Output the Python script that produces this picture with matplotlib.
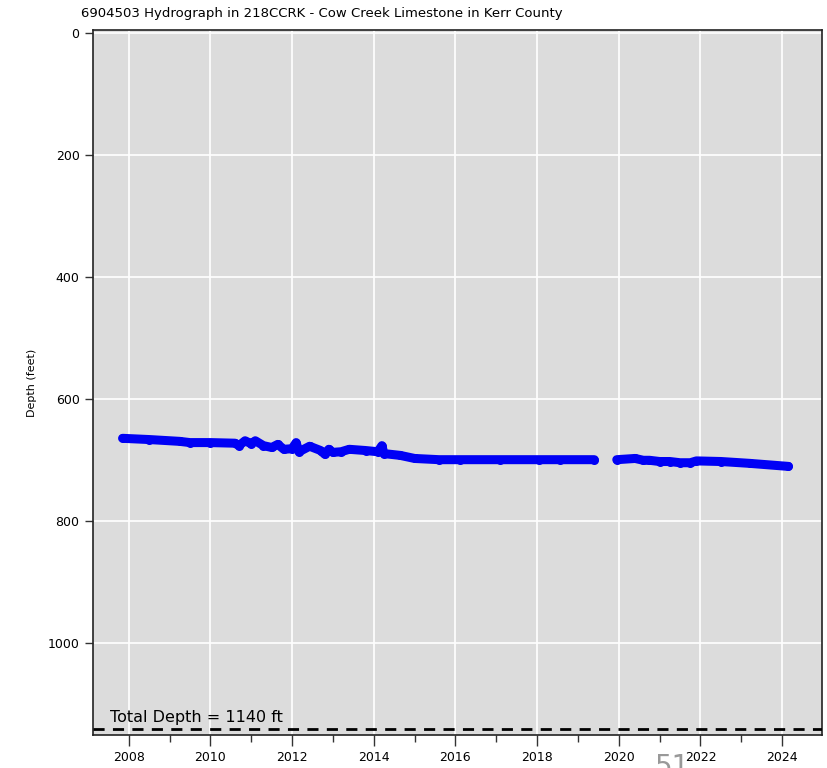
import numpy as np
import matplotlib.pyplot as plt
from matplotlib.ticker import MultipleLocator

# Water level measurements (decimal year, depth below land surface in feet)
dates_a = [2007.85, 2008.5, 2009.25, 2009.5, 2010.0, 2010.6, 2010.7, 2010.85, 2011.0,
           2011.1, 2011.3, 2011.5, 2011.65, 2011.8, 2012.0, 2012.1, 2012.17, 2012.43,
           2012.7, 2012.8, 2012.9, 2013.0, 2013.2, 2013.4, 2013.8, 2014.1, 2014.2,
           2014.25, 2014.65, 2015.0, 2015.6, 2016.1, 2017.1, 2018.05, 2018.55, 2019.4]
depth_a = [664, 666, 669, 671, 671, 672, 676, 668, 673,
           668, 676, 679, 674, 682, 681, 671, 686, 677,
           684, 690, 682, 687, 686, 682, 684, 686, 676,
           689, 692, 697, 699, 699, 699, 699, 699, 699]

dates_b = [2019.95, 2020.4, 2020.6, 2020.75, 2021.0, 2021.25, 2021.5, 2021.75,
           2021.9, 2022.5, 2023.2, 2024.15]
depth_b = [699, 697, 700, 700, 702, 702, 704, 704,
           701, 702, 705, 710]

total_depth = 1140
title = "6904503 Hydrograph in 218CCRK - Cow Creek Limestone in Kerr County"

fig = plt.figure(figsize=(8.28, 7.68), dpi=100)
ax = fig.add_axes([0.112, 0.043, 0.881, 0.918])
ax.set_facecolor("#dcdcdc")

for d, v in ((dates_a, depth_a), (dates_b, depth_b)):
    ax.plot(d, v, color="#0000f5", lw=6.5, solid_capstyle="round",
            solid_joinstyle="round", marker="o", ms=6.5, mew=0, zorder=3)

ax.axhline(total_depth, color="black", lw=2, ls=(0, (4, 3)), zorder=3)
ax.text(2007.55, total_depth - 6, f"Total Depth = {total_depth} ft",
        fontsize=11.5, ha="left", va="bottom", zorder=4)

ax.set_xlim(2007.12, 2024.98)
ax.set_ylim(1150, -5)
ax.xaxis.set_major_locator(MultipleLocator(2))
ax.xaxis.set_minor_locator(MultipleLocator(1))
ax.yaxis.set_major_locator(MultipleLocator(200))
ax.grid(True, which="major", color="white", lw=1.2)
ax.set_axisbelow(True)

ax.tick_params(axis="both", which="major", labelsize=9, length=6, width=1,
               color="#333333")
ax.tick_params(axis="x", which="major", length=8)
ax.tick_params(axis="x", which="minor", length=5, width=1, color="#333333")
for s in ax.spines.values():
    s.set_color("#222222")
    s.set_linewidth(1.2)

ax.set_ylabel("Depth (feet)", fontsize=8, labelpad=8)
fig.text(81 / 828, 1 - 13 / 768, title, fontsize=9.5, ha="left", va="center")
fig.text(655 / 828, 1 - 753 / 768, "51", fontsize=20, color="#999999",
         ha="left", va="top", zorder=0)

fig.savefig("out.png", dpi=100)
